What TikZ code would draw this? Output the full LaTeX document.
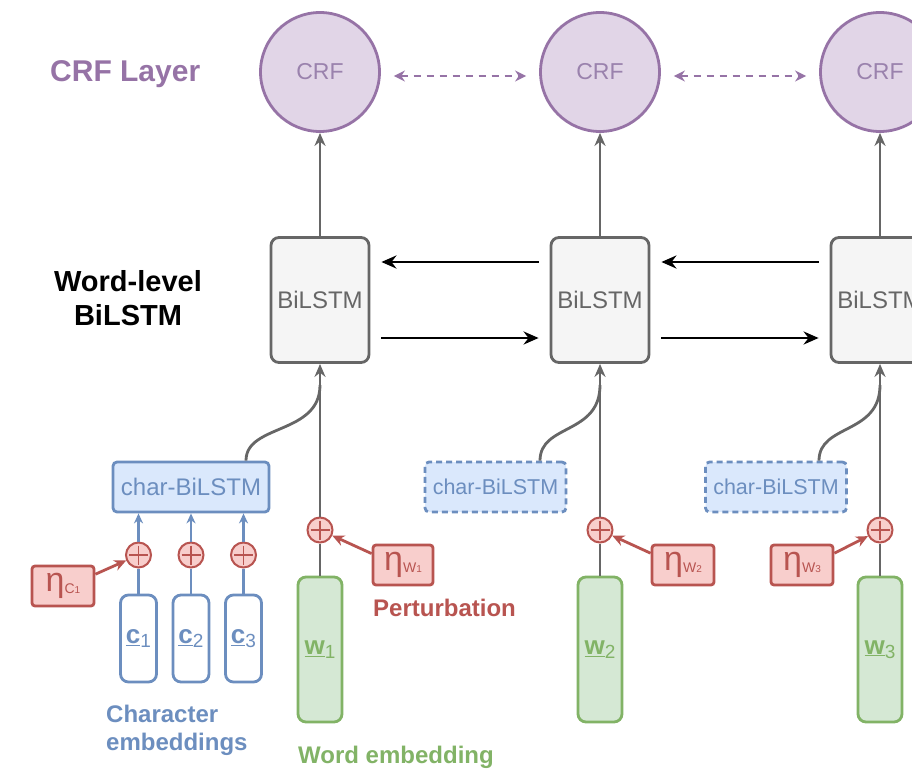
\documentclass[tikz,border=0pt]{standalone}
\usepackage{fontspec}
\setmainfont{Liberation Sans}
\usetikzlibrary{arrows.meta}
\definecolor{crfd}{HTML}{9673A6}
\definecolor{crff}{HTML}{E1D5E7}
\definecolor{crft}{HTML}{9A82AD}
\definecolor{bild}{HTML}{666666}
\definecolor{bilf}{HTML}{F5F5F5}
\definecolor{blued}{HTML}{6C8EBF}
\definecolor{bluef}{HTML}{DAE8FC}
\definecolor{redd}{HTML}{B85450}
\definecolor{redf}{HTML}{F8CECC}
\definecolor{greend}{HTML}{82B366}
\definecolor{greenf}{HTML}{D5E8D4}
\newcommand{\ulab}[2]{{\fontsize{26}{26}\selectfont\bfseries\underline{#1}}\raisebox{-4pt}{\fontsize{19}{19}\selectfont #2}}
\newcommand{\etalab}[2]{{\fontsize{34}{34}\selectfont η}\raisebox{-2pt}{\fontsize{14}{14}\selectfont #1\fontsize{10}{10}\selectfont #2}}
\tikzset{
  crfnode/.style={circle, draw=crfd, fill=crff, line width=2.8pt, minimum size=119pt, inner sep=0pt, text=crft, font=\fontsize{23}{23}\selectfont},
  bilnode/.style={rectangle, rounded corners=8pt, draw=bild, fill=bilf, line width=2.8pt, minimum width=98pt, minimum height=125pt, inner sep=0pt, text=bild, font=\fontsize{24}{24}\selectfont},
  charnode/.style={rectangle, rounded corners=4pt, draw=blued, fill=bluef, line width=2.8pt, minimum height=50pt, inner sep=0pt, text=blued, font=\fontsize{24}{24}\selectfont},
  chardash/.style={charnode, dash pattern=on 6pt off 4pt, font=\fontsize{21.5}{21.5}\selectfont},
  plusnode/.style={circle, draw=redd, fill=redf, line width=2pt, minimum size=25pt, inner sep=0pt,
    path picture={\draw[redd, line width=1.5pt] ([yshift=-3pt]path picture bounding box.north) -- ([yshift=3pt]path picture bounding box.south);
                  \draw[redd, line width=1.5pt] ([xshift=3pt]path picture bounding box.west) -- ([xshift=-3pt]path picture bounding box.east);}},
  etanode/.style={rectangle, rounded corners=3pt, draw=redd, fill=redf, line width=2.8pt, minimum height=40pt, inner sep=0pt, text=redd},
  cemb/.style={rectangle, rounded corners=8pt, draw=blued, fill=white, line width=2.8pt, minimum width=36pt, minimum height=87pt, inner sep=0pt, text=blued},
  wemb/.style={rectangle, rounded corners=8pt, draw=greend, fill=greenf, line width=2.8pt, minimum width=44pt, minimum height=145pt, inner sep=0pt, text=greend},
  grayline/.style={draw=bild, line width=2.8pt},
  grayarrow/.style={grayline, -{Stealth[length=13pt,width=11pt]}},
  blackarrow/.style={draw=black, line width=2.8pt, -{Stealth[length=15pt,width=13pt]}},
  crfarrow/.style={draw=crfd, line width=2.8pt, dash pattern=on 7pt off 6pt, {Stealth[length=11pt,width=11pt]}-{Stealth[length=11pt,width=11pt]}},
  blueline/.style={draw=blued, line width=2.8pt},
  bluearrow/.style={blueline, -{Stealth[length=10pt,width=9pt]}},
  redarrow/.style={draw=redd, line width=2.8pt, -{Stealth[length=12pt,width=11pt]}},
  lbl/.style={inner sep=0pt, font=\bfseries\fontsize{24}{28}\selectfont}
}
\begin{document}
\begin{tikzpicture}[x=1pt,y=-1pt]
\useasboundingbox (0,0) rectangle (912,770);
\clip (0,0) rectangle (912,770);
\fill[white] (0,0) rectangle (912,770);

% CRF layer
\node[crfnode] (crf1) at (320,72) {CRF};
\node[crfnode] (crf2) at (600,72) {CRF};
\node[crfnode] (crf3) at (880,72) {CRF};
\node[lbl, anchor=base west, text=crfd, font=\bfseries\fontsize{30}{30}\selectfont] (crflab) at (50,82) {CRF Layer};

% BiLSTM
\node[bilnode] (bl1) at (320,300) {BiLSTM};
\node[bilnode] (bl2) at (600,300) {BiLSTM};
\node[bilnode] (bl3) at (880,300) {BiLSTM};
\node[lbl, align=center, font=\bfseries\fontsize{29}{34}\selectfont] (wlab) at (128,298.5) {Word-level\\BiLSTM};

% char-BiLSTM
\node[charnode, minimum width=156pt] (cb1) at (191,487) {char-BiLSTM};
\node[chardash, minimum width=141pt] (cb2) at (495.5,487) {char-BiLSTM};
\node[chardash, minimum width=141pt] (cb3) at (776,487) {char-BiLSTM};

% plus nodes
\node[plusnode] (pw1) at (320,530) {};
\node[plusnode] (pw2) at (600,530) {};
\node[plusnode] (pw3) at (880,530) {};
\node[plusnode] (pc1) at (138.5,555) {};
\node[plusnode] (pc2) at (191,555) {};
\node[plusnode] (pc3) at (243.5,555) {};

% embeddings
\node[cemb] (c1) at (138.5,638.5) {\ulab{c}{1}};
\node[cemb] (c2) at (191,638.5) {\ulab{c}{2}};
\node[cemb] (c3) at (243.5,638.5) {\ulab{c}{3}};
\node[wemb] (w1) at (320,649.5) {\ulab{w}{1}};
\node[wemb] (w2) at (600,649.5) {\ulab{w}{2}};
\node[wemb] (w3) at (880,649.5) {\ulab{w}{3}};

% perturbations
\node[etanode, minimum width=62pt] (etac) at (63,586) {\etalab{C}{1}};
\node[etanode, minimum width=60pt] (etaw1) at (403,565) {\etalab{W}{1}};
\node[etanode, minimum width=62pt] (etaw2) at (683,565) {\etalab{W}{2}};
\node[etanode, minimum width=62pt] (etaw3) at (802,565) {\etalab{W}{3}};

% labels
\node[lbl, anchor=base west, text=redd] (plab) at (373,616) {Perturbation};
\node[lbl, anchor=north west, align=left, text=blued] (clab) at (106,704.5) {Character\\embeddings};
\node[lbl, anchor=base west, text=greend] (welab) at (298,763) {Word embedding};

% junctions
\coordinate (j1) at (320,385);
\coordinate (j2) at (600,385);
\coordinate (j3) at (880,385);

% BiLSTM -> CRF
\draw[grayarrow] (bl1) -- (crf1);
\draw[grayarrow] (bl2) -- (crf2);
\draw[grayarrow] (bl3) -- (crf3);

% CRF dashed
\draw[crfarrow] ([xshift=13pt,yshift=-4pt]crf1.east) -- ([xshift=-13pt,yshift=-4pt]crf2.west);
\draw[crfarrow] ([xshift=13pt,yshift=-4pt]crf2.east) -- ([xshift=-13pt,yshift=-4pt]crf3.west);

% BiLSTM recurrences
\draw[blackarrow] ([xshift=-11pt,yshift=38pt]bl2.west) -- ([xshift=11pt,yshift=38pt]bl1.east);
\draw[blackarrow] ([xshift=11pt,yshift=-38pt]bl1.east) -- ([xshift=-11pt,yshift=-38pt]bl2.west);
\draw[blackarrow] ([xshift=-11pt,yshift=38pt]bl3.west) -- ([xshift=11pt,yshift=38pt]bl2.east);
\draw[blackarrow] ([xshift=11pt,yshift=-38pt]bl2.east) -- ([xshift=-11pt,yshift=-38pt]bl3.west);

% word path
\draw[grayline] (w1) -- (pw1);
\draw[grayarrow] (pw1) -- (bl1);
\draw[grayline] (w2) -- (pw2);
\draw[grayarrow] (pw2) -- (bl2);
\draw[grayline] (w3) -- (pw3);
\draw[grayarrow] (pw3) -- (bl3);

% char-BiLSTM to word line
\draw[grayline] ([xshift=55pt]cb1.north) .. controls +(0,-37) and +(0,50) .. (j1);
\draw[grayline] ([xshift=44.5pt]cb2.north) .. controls +(0,-37) and +(0,50) .. (j2);
\draw[grayline] ([xshift=43pt]cb3.north) .. controls +(0,-37) and +(0,50) .. (j3);

% char path
\draw[blueline] (c1) -- (pc1);
\draw[blueline] (c2) -- (pc2);
\draw[blueline] (c3) -- (pc3);
\draw[bluearrow] (pc1) -- (pc1 |- cb1.south);
\draw[bluearrow] (pc2) -- (pc2 |- cb1.south);
\draw[bluearrow] (pc3) -- (pc3 |- cb1.south);

% perturbation arrows
\draw[redarrow] (etac.20) -- (pc1);
\draw[redarrow] (etaw1.160) -- (pw1);
\draw[redarrow] (etaw2.160) -- (pw2);
\draw[redarrow] (etaw3.20) -- (pw3);
\end{tikzpicture}
\end{document}
